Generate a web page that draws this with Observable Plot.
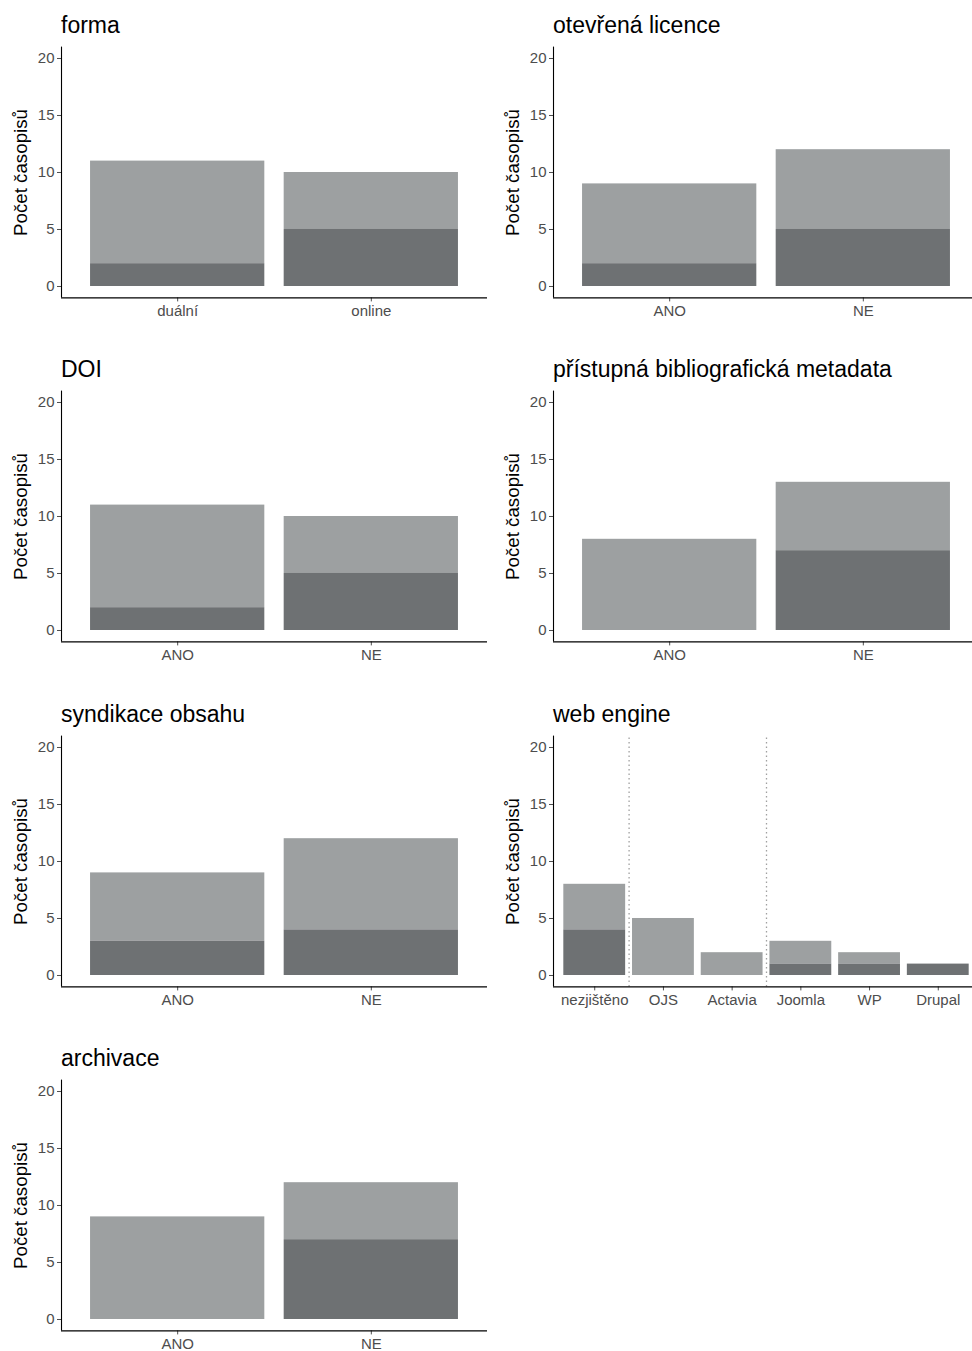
<!DOCTYPE html>
<html>
<head>
<meta charset="utf-8">
<script src="https://cdn.jsdelivr.net/npm/d3@7"></script>
<script src="https://cdn.jsdelivr.net/npm/@observablehq/plot@0.6"></script>
<style>
  html, body { margin: 0; padding: 0; background: #fff; overflow: hidden; }
  body { width: 972px; height: 1351px; position: relative; font-family: "Liberation Sans", Arial, sans-serif; }
  .panel { position: absolute; width: 492px; height: 344px; }
  .title { position: absolute; left: 61px; top: 14px; font-size: 23px; color: #000; white-space: nowrap; line-height: 1; }
  .panel svg { position: absolute; left: 0; top: 40px; overflow: visible; }
</style>
</head>
<body>
<div id="root"></div>
<script>
// ---- data ----
const titles = ["forma", "otevřená licence", "DOI", "přístupná bibliografická metadata", "syndikace obsahu", "web engine", "archivace"];
const categories = [
  ["duální", "online"],
  ["ANO", "NE"],
  ["ANO", "NE"],
  ["ANO", "NE"],
  ["ANO", "NE"],
  ["nezjištěno", "OJS", "Actavia", "Joomla", "WP", "Drupal"],
  ["ANO", "NE"]
];
const totals = [
  [11, 10],
  [9, 12],
  [11, 10],
  [8, 13],
  [9, 12],
  [8, 5, 2, 3, 2, 1],
  [9, 12]
];
const darkPart = [
  [2, 5],
  [2, 5],
  [2, 5],
  [0, 7],
  [3, 4],
  [4, 0, 0, 1, 1, 1],
  [0, 7]
];
// dotted separators drawn after these categories
const separatorsAfter = [[], [], [], [], [], ["nezjištěno", "Actavia"], []];
const yTicks = [0, 5, 10, 15, 20];
const yLabel = "Počet časopisů";

const lightColor = "#9da0a1";
const darkColor = "#6e7173";

const root = document.getElementById("root");
const rowH = 344.4;

titles.forEach((title, p) => {
  const cats = categories[p];
  const n = cats.length;
  const rows = cats.map((c, i) => ({ cat: c, pos: i + 1, total: totals[p][i], dark: darkPart[p][i] }));
  const seps = separatorsAfter[p].map(c => cats.indexOf(c) + 1.5);
  const xDomain = [0.4, n + 0.6];
  const yDomain = [-1, 21];

  const chart = Plot.plot({
    width: 487,
    height: 297.4,
    marginLeft: 61,
    marginRight: 0,
    marginTop: 6.6,
    marginBottom: 40,
    style: { fontFamily: "Liberation Sans, Arial, sans-serif", background: "transparent", overflow: "visible" },
    x: { domain: xDomain },
    y: { domain: yDomain },
    marks: [
      Plot.rectY(rows, { x1: d => d.pos - 0.45, x2: d => d.pos + 0.45, y1: d => d.dark, y2: d => d.total, fill: lightColor }),
      Plot.rectY(rows.filter(d => d.dark > 0), { x1: d => d.pos - 0.45, x2: d => d.pos + 0.45, y1: 0, y2: d => d.dark, fill: darkColor }),
      Plot.ruleX(seps, { y1: yDomain[0], y2: yDomain[1], stroke: "#a0a0a0", strokeWidth: 1.3, strokeDasharray: "1.3,3.2" }),
      Plot.axisY({ ticks: yTicks, tickSize: 4, tickPadding: 3, fontSize: 15, color: "#4d4d4d", label: null }),
      Plot.text([yLabel], { text: d => d, frameAnchor: "left", textAnchor: "middle", rotate: -90, dx: -41, fontSize: 18.75, fill: "#000" }),
      Plot.axisX({ ticks: rows.map(d => d.pos), tickFormat: v => cats[v - 1], tickSize: 4, tickPadding: 3, fontSize: 15, color: "#4d4d4d", label: null }),
      Plot.ruleX([xDomain[0]], { y1: yDomain[0], y2: yDomain[1], stroke: "#000", strokeWidth: 1.1 }),
      Plot.ruleY([yDomain[0]], { x1: xDomain[0], x2: xDomain[1], stroke: "#000", strokeWidth: 1.1 })
    ]
  });

  const panel = document.createElement("div");
  panel.className = "panel";
  const col = p % 2, row = Math.floor(p / 2);
  panel.style.left = (col * 492) + "px";
  panel.style.top = (row * rowH) + "px";
  const t = document.createElement("div");
  t.className = "title";
  t.textContent = title;
  panel.appendChild(t);
  panel.appendChild(chart);
  root.appendChild(panel);
});
</script>
</body>
</html>
